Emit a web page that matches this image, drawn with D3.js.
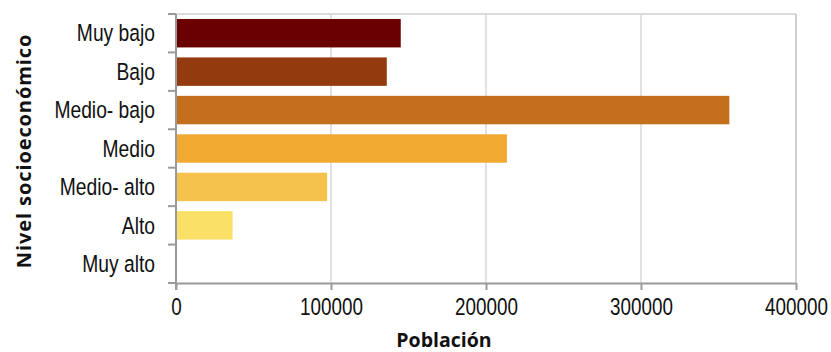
<!DOCTYPE html>
<html>
<head>
<meta charset="utf-8">
<script src="https://cdn.jsdelivr.net/npm/d3@7"></script>
<style>
  html, body { margin: 0; padding: 0; background: #fff; }
  svg { display: block; }
  .narrow { font-family: "Liberation Sans", Arial, sans-serif; }
  .title { font-family: "Open Sans", "Liberation Sans", Arial, sans-serif; font-weight: bold; }
</style>
</head>
<body>
<svg id="chart" width="831" height="352"></svg>
<script>
// Population by socioeconomic level
const categories = ["Muy bajo", "Bajo", "Medio- bajo", "Medio", "Medio- alto", "Alto", "Muy alto"];
const population = [145000, 136000, 357000, 213500, 97500, 36500, 600];
const barColors = ["#6b0000", "#933a0e", "#c46f1e", "#f1a931", "#f5c24b", "#fbe068", "#fdf1a0"];
const xTicks = [0, 100000, 200000, 300000, 400000];

const svg = d3.select("#chart");
const margin = { left: 176, right: 35, top: 14, bottom: 69 };
const W = 831, H = 352;
const plotW = W - margin.left - margin.right;
const plotH = H - margin.top - margin.bottom;
const condense = 0.82; // horizontal squeeze for the narrow label face

const x = d3.scaleLinear().domain([0, 400000]).range([margin.left, margin.left + plotW]);
const y = d3.scaleBand().domain(categories).range([margin.top, margin.top + plotH])
  .paddingInner(0.26).paddingOuter(0.13);

// Vertical gridlines
svg.append("g").selectAll("line").data(xTicks.slice(1)).join("line")
  .attr("x1", d => x(d)).attr("x2", d => x(d))
  .attr("y1", margin.top).attr("y2", margin.top + plotH)
  .attr("stroke", "#d9d9d9").attr("stroke-width", 1.5);

// Top border of plot area
svg.append("line")
  .attr("x1", margin.left).attr("x2", x(400000))
  .attr("y1", margin.top).attr("y2", margin.top)
  .attr("stroke", "#d0d0d0").attr("stroke-width", 1.5);

// Bars
svg.append("g").selectAll("rect").data(categories).join("rect")
  .attr("x", x(0))
  .attr("y", d => y(d))
  .attr("width", (d, i) => x(population[i]) - x(0))
  .attr("height", y.bandwidth())
  .attr("fill", (d, i) => barColors[i]);

// X axis
const xAxis = d3.axisBottom(x).tickValues(xTicks).tickFormat(d3.format("d")).tickSize(7).tickSizeOuter(0).tickPadding(9);
const gx = svg.append("g").attr("transform", `translate(0,${margin.top + plotH})`).call(xAxis);
gx.select(".domain").attr("stroke", "#9a9a9a").attr("stroke-width", 2);
gx.selectAll(".tick line").attr("stroke", "#9a9a9a").attr("stroke-width", 2);
gx.selectAll(".tick text")
  .attr("class", "narrow").attr("font-size", 23).attr("fill", "#111")
  .attr("transform", `scale(${condense},1)`);

// Y axis: ticks sit on the boundaries between categories
const step = y.step();
const boundaries = d3.range(categories.length + 1).map(i => margin.top + i * step);
const gy = svg.append("g");
gy.append("line")
  .attr("x1", margin.left).attr("x2", margin.left)
  .attr("y1", margin.top).attr("y2", margin.top + plotH + 7)
  .attr("stroke", "#9a9a9a").attr("stroke-width", 2);
gy.selectAll("line.tk").data(boundaries).join("line").attr("class", "tk")
  .attr("x1", margin.left - 8).attr("x2", margin.left)
  .attr("y1", d => d).attr("y2", d => d)
  .attr("stroke", "#9a9a9a").attr("stroke-width", 2);
gy.selectAll("text").data(categories).join("text")
  .attr("class", "narrow")
  .attr("transform", d => `translate(155,${y(d) + y.bandwidth() / 2}) scale(${condense},1)`)
  .attr("dy", "0.35em")
  .attr("text-anchor", "end")
  .attr("font-size", 23.5)
  .attr("fill", "#111")
  .text(d => d);

// Right border
svg.append("line")
  .attr("x1", x(400000)).attr("x2", x(400000))
  .attr("y1", margin.top).attr("y2", margin.top + plotH)
  .attr("stroke", "#c8c8c8").attr("stroke-width", 1.5);

// Axis titles
svg.append("text").attr("class", "title")
  .attr("x", 444).attr("y", 347)
  .attr("text-anchor", "middle").attr("font-size", 19.5).attr("fill", "#111")
  .text("Población");

svg.append("text").attr("class", "title")
  .attr("transform", "translate(31,151) rotate(-90)")
  .attr("text-anchor", "middle").attr("font-size", 20).attr("letter-spacing", 0.9).attr("fill", "#111")
  .text("Nivel socioeconómico");
</script>
</body>
</html>
